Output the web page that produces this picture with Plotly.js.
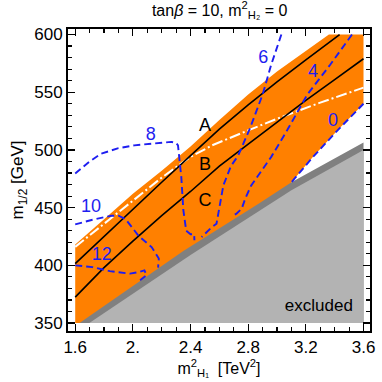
<!DOCTYPE html>
<html>
<head>
<meta charset="utf-8">
<script src="https://cdn.plot.ly/plotly-3.0.1.min.js"></script>
<style>html,body{margin:0;padding:0;background:#fff;}#plot{width:382px;height:382px;}</style>
</head>
<body>
<div id="plot"></div>
<script>
// ---- data ----
// allowed (orange) region outline
const orangeX = [1.6, 1.6, 1.8, 2.0, 2.2, 2.4, 2.6, 2.8, 3.0, 3.2, 3.36, 3.6, 3.6, 3.42, 3.25, 3.1, 3.1, 1.6];
const orangeY = [350, 418, 440, 462, 482, 503, 526, 548, 568, 586, 600, 600, 540, 517, 494, 472, 350, 350];
// dark grey band (upper edge) and light grey excluded region (upper edge)
const darkX = [1.63, 2.35, 2.88, 3.1, 3.6, 3.6, 1.63];
const darkY = [350, 412.5, 454, 472, 506.5, 350, 350];
const lightX = [1.698, 2.4, 3.1, 3.6, 3.6, 1.698];
const lightY = [350, 409, 465, 500, 350, 350];
// black solid lines
const lineUpX = [1.6, 1.8, 2.0, 2.2, 2.4, 2.6, 2.8, 3.0, 3.2, 3.434];
const lineUpY = [401.5, 425, 449, 472, 495, 518, 539, 559, 578, 600];
const lineLoX = [1.6, 1.8, 2.0, 2.2, 2.4, 2.6, 2.8, 3.0, 3.2, 3.4, 3.6];
const lineLoY = [372.5, 398, 421, 443, 464, 486, 505, 524, 543, 561, 579];
// white dash-dot line
const ddX = [1.6, 1.9, 2.2, 2.4, 2.55, 2.8, 3.0, 3.3, 3.6];
const ddY = [416, 446, 476, 494, 504, 517, 527, 541, 554];
// blue dashed contours
const c0X = [3.6, 3.42, 3.25, 3.1];
const c0Y = [540, 517, 494, 472];
const c4X = [3.52, 3.37, 3.21, 3.07, 2.96, 2.89, 2.82, 2.78, 2.755, 2.72, 2.685];
const c4Y = [600, 574, 548, 517, 494, 482, 469, 458, 449, 445, 442];
const c6X = [3.03, 2.96, 2.90, 2.81, 2.73, 2.68, 2.628, 2.592, 2.58, 2.547, 2.489, 2.477];
const c6Y = [600, 574, 548, 518, 495, 486, 469.5, 446, 436, 433, 426, 424.5];
const c8X = [1.6, 1.7, 1.78, 1.9, 2.01, 2.15, 2.266, 2.30, 2.313, 2.336, 2.35, 2.37, 2.40, 2.425, 2.427];
const c8Y = [479.5, 490, 496.8, 501.5, 504, 505.5, 507, 506, 504, 476.5, 448, 430, 427, 427, 421.7];
const c10X = [1.6, 1.72, 1.85, 1.9, 1.95, 2.04, 2.13, 2.18, 2.175];
const c10Y = [435.5, 439.5, 443, 443, 440, 425.5, 415.8, 406, 398];
const c12X = [1.6, 1.72, 1.84, 1.98, 2.04, 2.08, 2.095, 2.05];
const c12Y = [400, 398.5, 395, 392.8, 394.2, 395.7, 391.5, 387];
// labels
const regionLabels = ['A', 'B', 'C'];
const regionLabX = [2.50, 2.50, 2.50];
const regionLabY = [520.6, 486.8, 455];
const contourLabels = ['0', '4', '6', '8', '10', '12'];
const contourLabX = [3.388, 3.249, 2.905, 2.124, 1.709, 1.784];
const contourLabY = [525, 567.4, 579.6, 512.8, 450, 408.7];
const excludedLabel = ['excluded'];
const excludedX = [3.29];
const excludedY = [364];
const xTickVals = [1.6, 2.0, 2.4, 2.8, 3.2, 3.6];
const xTickText = ['1.6', '2.', '2.4', '2.8', '3.2', '3.6'];
const yTickVals = [350, 400, 450, 500, 550, 600];

const BLUE = 'rgb(30,30,240)';
const FONT = 'Liberation Sans, Arial, Helvetica, sans-serif';

function poly(x, y, color) {
  return {x, y, type: 'scatter', mode: 'lines', fill: 'toself', fillcolor: color,
          line: {width: 0, color: color}, hoverinfo: 'skip', showlegend: false};
}
function line(x, y, color, width, dash) {
  return {x, y, type: 'scatter', mode: 'lines', line: {color, width, dash},
          hoverinfo: 'skip', showlegend: false};
}
function labels(x, y, text, color, size) {
  return {x, y, text, type: 'scatter', mode: 'text',
          textfont: {family: FONT, size, color}, hoverinfo: 'skip', showlegend: false};
}

const traces = [
  poly(orangeX, orangeY, 'rgb(255,128,0)'),
  poly(darkX, darkY, 'rgb(128,128,128)'),
  poly(lightX, lightY, 'rgb(179,179,179)'),
  line(ddX, ddY, 'white', 2, '11px,3px,2px,3px'),
  line(lineUpX, lineUpY, 'black', 1.6, 'solid'),
  line(lineLoX, lineLoY, 'black', 1.6, 'solid'),
  line(c0X, c0Y, BLUE, 1.9, '7px,4px'),
  line(c4X, c4Y, BLUE, 1.9, '7px,4px'),
  line(c6X, c6Y, BLUE, 1.9, '7px,4px'),
  line(c8X, c8Y, BLUE, 1.9, '7px,4px'),
  line(c10X, c10Y, BLUE, 1.9, '7px,4px'),
  line(c12X, c12Y, BLUE, 1.9, '7px,4px'),
  labels(regionLabX, regionLabY, regionLabels, 'black', 18),
  labels(contourLabX, contourLabY, contourLabels, BLUE, 18),
  labels(excludedX, excludedY, excludedLabel, 'black', 17)
];

const axisCommon = {
  showgrid: false, zeroline: false, showline: true, linecolor: 'black', linewidth: 2,
  mirror: 'ticks', ticks: 'inside', ticklen: 7, tickwidth: 1.2, tickcolor: 'black',
  tickfont: {family: FONT, size: 17, color: 'black'}
};

const layout = {
  width: 382, height: 382,
  margin: {l: 68, r: 12, t: 29, b: 51},
  paper_bgcolor: 'white', plot_bgcolor: 'white',
  font: {family: FONT, color: 'black'},
  title: {text: 'tan<i>β</i> = 10, m<sup>2</sup><sub>H₂</sub> = 0', x: 0.575, xanchor: 'center', y: 0.988, yanchor: 'top',
          font: {family: FONT, size: 16, color: 'black'}},
  xaxis: Object.assign({}, axisCommon, {
    range: [1.55, 3.645], tickvals: xTickVals, ticktext: xTickText,
    minor: {dtick: 0.1, tick0: 1.6, ticks: 'inside', ticklen: 4, tickcolor: 'black', tickwidth: 1.2, showgrid: false},
    title: {text: 'm<sup>2</sup><sub>H₁</sub>  [TeV<sup>2</sup>]', font: {family: FONT, size: 16, color: 'black'}, standoff: 4}
  }),
  yaxis: Object.assign({}, axisCommon, {
    range: [343.1, 604.8], tickvals: yTickVals,
    minor: {dtick: 10, tick0: 350, ticks: 'inside', ticklen: 4, tickcolor: 'black', tickwidth: 1.2, showgrid: false},
    title: {text: 'm<sub>1/2</sub> [GeV]', font: {family: FONT, size: 17, color: 'black'}, standoff: 6}
  })
};

Plotly.newPlot('plot', traces, layout, {staticPlot: true, displayModeBar: false});
</script>
</body>
</html>
